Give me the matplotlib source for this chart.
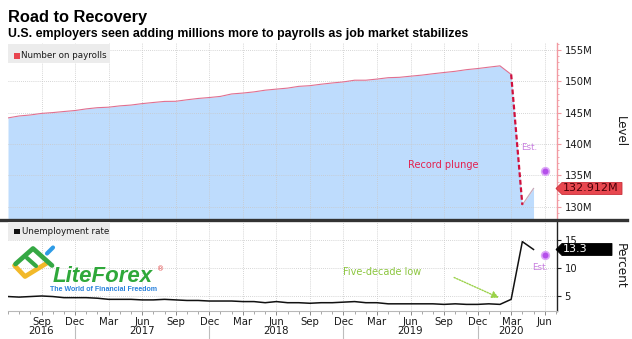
import matplotlib
matplotlib.use("Agg")
import matplotlib.pyplot as plt
import matplotlib.transforms as mtransforms
from matplotlib.patches import Polygon, Rectangle
from matplotlib.lines import Line2D

# ---------------------------------------------------------------- data
# Monthly observations, Jun 2016 .. May 2020
payrolls = [144.16, 144.47, 144.63, 144.88, 145.01, 145.18, 145.34,
            145.60, 145.79, 145.87, 146.08, 146.21, 146.44, 146.62, 146.79, 146.81, 147.05, 147.26, 147.41,
            147.59, 147.98, 148.12, 148.31, 148.58, 148.75, 148.91, 149.19, 149.30, 149.53, 149.73, 149.90,
            150.17, 150.17, 150.35, 150.57, 150.63, 150.81, 150.98, 151.20, 151.40, 151.59, 151.85, 152.03,
            152.25, 152.46, 151.09, 130.30, 132.912]          # millions
unemployment = [4.9, 4.8, 4.9, 5.0, 4.9, 4.7, 4.7,
                4.7, 4.6, 4.4, 4.4, 4.4, 4.3, 4.3, 4.4, 4.3, 4.2, 4.2, 4.1,
                4.1, 4.1, 4.0, 4.0, 3.8, 4.0, 3.8, 3.8, 3.7, 3.8, 3.8, 3.9,
                4.0, 3.8, 3.8, 3.6, 3.6, 3.6, 3.6, 3.6, 3.5, 3.6, 3.5, 3.5,
                3.6, 3.5, 4.4, 14.7, 13.3]                       # percent
est_payrolls = 135.7        # June 2020 estimate
est_unemployment = 12.4

tick_labels = ["Sep", "Dec", "Mar", "Jun", "Sep", "Dec", "Mar", "Jun", "Sep", "Dec",
               "Mar", "Jun", "Sep", "Dec", "Mar", "Jun", "Sep", "Dec", "Mar", "Jun"]
tick_index = list(range(3, 49, 3))[:len(tick_labels)]
tick_labels = tick_labels[:len(tick_index)]
year_labels = ["2016", "2017", "2018", "2019", "2020"]
year_index = [3, 12, 24, 36, 45]
year_breaks = [6, 18, 30, 42]

level_ticks = [130, 135, 140, 145, 150, 155]
level_ticklabels = ["130M", "135M", "140M", "145M", "150M", "155M"]
pct_ticks = [5, 10, 15]

# ---------------------------------------------------------------- figure
W, H = 632, 339
fig = plt.figure(figsize=(W / 100, H / 100), dpi=100)
fig.patch.set_facecolor("white")
plt.rcParams["font.family"] = ["DejaVu Sans"]


def fbox(x0, y0, x1, y1):
    """Axes rectangle from pixel edges measured from the top-left corner."""
    return [x0 / W, 1 - y1 / H, (x1 - x0) / W, (y1 - y0) / H]


def fp(x, y):
    return (x / W, 1 - y / H)


x_pay = list(range(len(payrolls)))
x_une = list(range(len(unemployment)))
x_est = len(payrolls)
XMAX = 49.1

grid_kw = dict(color="#c8c8c8", linestyle=(0, (1, 1.5)), linewidth=0.6)

# ---------------------------------------------------------------- top panel
ax1 = fig.add_axes(fbox(8, 43, 557, 219))
ax1.set_xlim(0, XMAX)
ax1.set_ylim(128.05, 156.1)
ax1.fill_between(x_pay, payrolls, 120, color="#bedcfd", linewidth=0, zorder=1)
ax1.plot(x_pay[:46], payrolls[:46], color="#e07090", linewidth=0.8, zorder=3)
ax1.plot(x_pay[45:47], payrolls[45:47], color="#d0103c", linewidth=1.6,
         linestyle=(0, (2.2, 1.2)), zorder=4)
ax1.plot(x_pay[46:48], payrolls[46:48], color="#c8a8b8", linewidth=0.9, zorder=3)
ax1.plot([x_est], [est_payrolls], "o", color="#b450ea", markersize=5.5,
         markeredgecolor="#dca6f7", markeredgewidth=1.2, zorder=5)

ax1.set_xticks(tick_index)
ax1.set_yticks(level_ticks)
ax1.set_yticklabels(level_ticklabels)
ax1.set_yticks([v for v in range(129, 157) if v % 5], minor=True)
ax1.grid(True, which="major", **grid_kw)
ax1.set_axisbelow(False)
for s in ("top", "left", "bottom"):
    ax1.spines[s].set_visible(False)
ax1.spines["right"].set_color("#f29aa2")
ax1.spines["right"].set_linewidth(1.0)
ax1.yaxis.tick_right()
ax1.tick_params(axis="y", which="major", direction="out", length=3, width=0.8,
                color="#f29aa2", labelsize=7.2, pad=2.5, labelcolor="#1a1a1a")
ax1.tick_params(axis="y", which="minor", direction="out", length=1.5, width=0.6,
                color="#f29aa2")
ax1.tick_params(axis="x", length=0, labelbottom=False)
for gl in ax1.yaxis.get_gridlines():
    gl.set_zorder(2)

ax1.text(38.96, 136.6, "Record plunge", color="#e3204e", fontsize=7,
         ha="center", va="center", zorder=6)
ax1.text(46.6, 139.4, "Est.", color="#c77ddf", fontsize=6.3,
         ha="center", va="center", zorder=6)

# ---------------------------------------------------------------- bottom panel
ax2 = fig.add_axes(fbox(8, 222, 557, 311))
ax2.set_xlim(0, XMAX)
ax2.set_ylim(2.32, 18.2)
ax2.plot(x_une, unemployment, color="#111111", linewidth=1.1, zorder=4)
ax2.plot([x_est], [est_unemployment], "o", color="#b450ea", markersize=5.5,
         markeredgecolor="#dca6f7", markeredgewidth=1.2, zorder=5)
ax2.set_xticks(tick_index)
ax2.set_xticklabels(tick_labels)
ax2.set_xticks(range(0, 50), minor=True)
ax2.set_yticks(pct_ticks)
ax2.grid(True, which="major", **grid_kw)
for s in ("top", "left"):
    ax2.spines[s].set_visible(False)
ax2.spines["bottom"].set_color("#b8b8b8")
ax2.spines["bottom"].set_linewidth(0.8)
ax2.spines["right"].set_color("#222222")
ax2.spines["right"].set_linewidth(1.0)
ax2.yaxis.tick_right()
ax2.tick_params(axis="y", direction="out", length=3, width=0.8, color="#222222",
                labelsize=7.2, pad=2.5, labelcolor="#1a1a1a")
ax2.tick_params(axis="x", which="major", direction="out", length=3, width=0.7,
                color="#888888", labelsize=7.3, pad=1.5, labelcolor="#1a1a1a")
ax2.tick_params(axis="x", which="minor", direction="out", length=2, width=0.6,
                color="#999999")

ax2.text(37.0, 9.3, "Five-decade low", color="#8cc63f", fontsize=7,
         ha="right", va="center", zorder=6)
ax2.annotate("", xy=(43.9, 4.7), xytext=(39.9, 8.3),
             arrowprops=dict(arrowstyle="-|>,head_length=0.4,head_width=0.2",
                             color="#9bd24a", linestyle=(0, (1, 1)), linewidth=1.0,
                             shrinkA=0, shrinkB=0), zorder=6)
ax2.text(47.6, 10.0, "Est.", color="#c77ddf", fontsize=6.3,
         ha="center", va="center", zorder=6)

# year row under the month labels
yr_trans = mtransforms.blended_transform_factory(ax2.transData, fig.transFigure)
for lbl, xi in zip(year_labels, year_index):
    ax2.text(xi, 1 - 331.5 / H, lbl, transform=yr_trans, ha="center", va="center",
             fontsize=7.3, color="#1a1a1a", clip_on=False)
for xb in year_breaks:
    ax2.add_line(Line2D([xb, xb], [1 - 326 / H, 0], transform=yr_trans,
                        color="#bdbdbd", linewidth=0.8, clip_on=False))

# ---------------------------------------------------------------- separator
fig.add_artist(Line2D([0, 627 / W], [1 - 220 / H, 1 - 220 / H], color="#333333",
                      linewidth=2.4, transform=fig.transFigure))

# ---------------------------------------------------------------- legends
fig.add_artist(Rectangle(fp(8, 63), 102 / W, 19 / H, transform=fig.transFigure,
                         facecolor="#ececec", edgecolor="none", zorder=5))
fig.add_artist(Rectangle(fp(14, 58.5), 5.5 / W, 5.5 / H, transform=fig.transFigure,
                         facecolor="#e8454f", edgecolor="none", zorder=6))
fig.text(*fp(21, 55.5), "Number on payrolls", fontsize=6.3, color="#1a1a1a",
         va="center", ha="left", zorder=7)

fig.add_artist(Rectangle(fp(8, 240), 102 / W, 18 / H, transform=fig.transFigure,
                         facecolor="#ececec", edgecolor="none", zorder=5))
fig.add_artist(Rectangle(fp(14, 234), 5.5 / W, 5.5 / H, transform=fig.transFigure,
                         facecolor="#111111", edgecolor="none", zorder=6))
fig.text(*fp(21.5, 231.5), "Unemployment rate", fontsize=6.3, color="#1a1a1a",
         va="center", ha="left", zorder=7)

# ---------------------------------------------------------------- value tags
ident = mtransforms.IdentityTransform()


def value_tag(ax, value, text, face, edge, textcolor):
    yd = ax.transData.transform((0, value))[1]
    x0, x1, x2, h = 556, 562, 622 if len(text) > 5 else 612, 12
    poly = Polygon([(x0, yd), (x1, yd + h / 2), (x2, yd + h / 2),
                    (x2, yd - h / 2), (x1, yd - h / 2)], closed=True,
                   transform=ident, facecolor=face, edgecolor=edge,
                   linewidth=0.6, zorder=8)
    fig.add_artist(poly)
    fig.text((x1 + 1) / W, yd / H, text, fontsize=8, color=textcolor,
             va="center", ha="left", zorder=9)


value_tag(ax1, payrolls[-1], f"{payrolls[-1]:.3f}M", "#e8474f", "#c8303a", "#4a0008")
value_tag(ax2, unemployment[-1], f"{unemployment[-1]:.1f}", "#000000", "#000000", "white")

# ---------------------------------------------------------------- axis titles
fig.text(*fp(620.5, 132), "Level", rotation=270, fontsize=8.5, color="#1a1a1a",
         ha="center", va="center")
fig.text(*fp(620, 266), "Percent", rotation=270, fontsize=8.7, color="#1a1a1a",
         ha="center", va="center")

# ---------------------------------------------------------------- headings
fig.text(*fp(8, 21.7), "Road to Recovery", family="Liberation Sans",
         fontweight="bold", fontsize=11.8, color="#000000", va="baseline")
fig.text(*fp(8, 37.3),
         "U.S. employers seen adding millions more to payrolls as job market stabilizes",
         family="Liberation Sans", fontweight="bold", fontsize=8.9,
         color="#000000", va="baseline")

# ---------------------------------------------------------------- brand mark
def stroke(pts, color, lw):
    xs = [p[0] / W for p in pts]
    ys = [1 - p[1] / H for p in pts]
    fig.add_artist(Line2D(xs, ys, color=color, linewidth=lw, solid_capstyle="round",
                          solid_joinstyle="round", transform=fig.transFigure, zorder=6))


stroke([(14.5, 265.5), (25, 276.5), (47, 263)], "#f2b92a", 3.4)
stroke([(15.5, 264), (33, 248.5), (52, 265.5)], "#35a844", 3.4)
stroke([(27, 258), (36, 266)], "#35a844", 3.0)
stroke([(47, 253.5), (53, 247.5)], "#2e9be6", 3.0)
fig.text(*fp(53, 282.5), "LiteForex", family="Liberation Sans", fontweight="bold",
         style="italic", fontsize=16, color="#2fa83a", va="baseline", zorder=6)
fig.text(*fp(161, 269), "®", fontsize=5, color="#e04040", ha="center",
         va="center", zorder=6)
fig.text(*fp(103, 289.5), "The World of Financial Freedom", family="Liberation Sans",
         fontweight="bold", fontsize=5.0, color="#2a82dc", ha="center",
         va="center", zorder=6)

fig.savefig("out.png", dpi=100, facecolor="white")
